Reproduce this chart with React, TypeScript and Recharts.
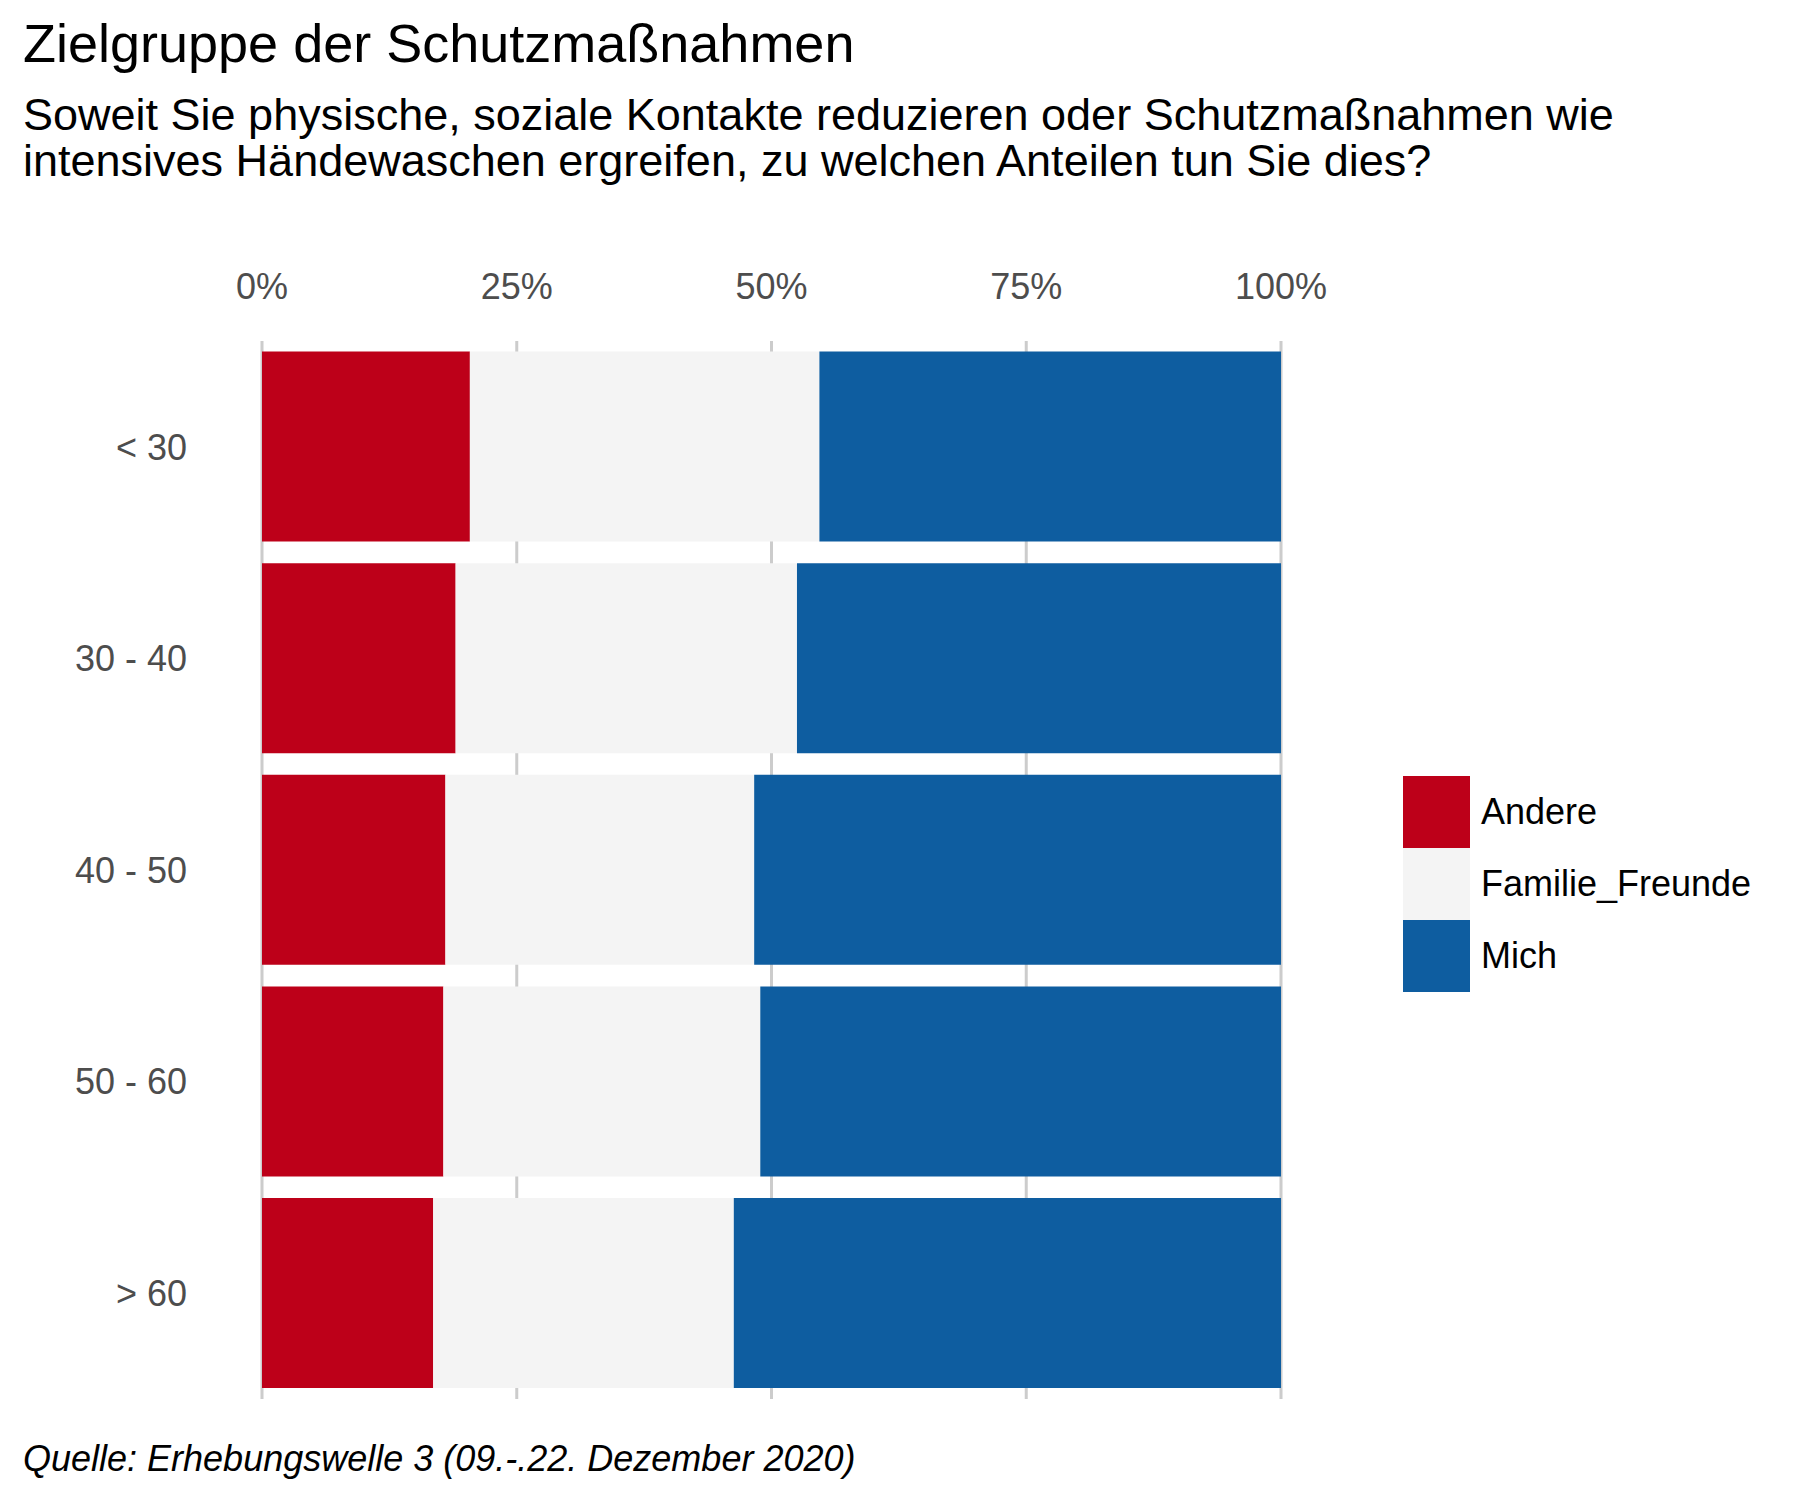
import { BarChart, Bar, XAxis, YAxis, CartesianGrid } from 'recharts';

const groups = ['< 30', '30 - 40', '40 - 50', '50 - 60', '> 60'];
const andere = [20.4, 19.0, 18.0, 17.8, 16.8];
const familie = [34.3, 33.5, 30.3, 31.1, 29.5];
const mich = [45.3, 47.5, 51.7, 51.1, 53.7];
const xTicks = [0, 25, 50, 75, 100];

const series = [
  { key: 'Andere', color: '#BD0019' },
  { key: 'Familie_Freunde', color: '#F4F4F4' },
  { key: 'Mich', color: '#0E5DA0' },
];

const data = groups.map((g, i) => ({
  group: g,
  Andere: andere[i],
  Familie_Freunde: familie[i],
  Mich: mich[i],
}));

const font = '"Liberation Sans", Arial, sans-serif';

export default function App() {
  return (
    <div style={{ position: 'absolute', left: 0, top: 0, width: 1800, height: 1500, background: '#fff', fontFamily: font }}>
      <div style={{ position: 'absolute', left: 23, top: 16, fontSize: 54, lineHeight: 1, color: '#000' }}>
        Zielgruppe der Schutzmaßnahmen
      </div>
      <div style={{ position: 'absolute', left: 23, top: 92, fontSize: 45, lineHeight: '46px', color: '#000' }}>
        Soweit Sie physische, soziale Kontakte reduzieren oder Schutzmaßnahmen wie<br />
        intensives Händewaschen ergreifen, zu welchen Anteilen tun Sie dies?
      </div>
      <BarChart
        width={1800}
        height={1500}
        data={data}
        layout="vertical"
        barCategoryGap="5%"
        margin={{ top: 296, right: 519, bottom: 101, left: 0 }}
        style={{ position: 'absolute', left: 0, top: 0 }}
      >
        <CartesianGrid horizontal={false} stroke="#cccccc" strokeWidth={3} />
        <XAxis
          type="number"
          orientation="top"
          domain={[0, 100]}
          ticks={xTicks}
          tickFormatter={(v) => `${v}%`}
          axisLine={false}
          tickLine={false}
          height={45}
          tickMargin={36}
          tick={{ fontSize: 36, fill: '#4D4D4D', fontFamily: font }}
        />
        <YAxis
          type="category"
          dataKey="group"
          width={262}
          axisLine={false}
          tickLine={false}
          tickMargin={69}
          tick={{ fontSize: 36, fill: '#4D4D4D', fontFamily: font }}
        />
        {series.map((s) => (
          <Bar key={s.key} dataKey={s.key} stackId="a" fill={s.color} isAnimationActive={false} />
        ))}
      </BarChart>
      <div style={{ position: 'absolute', left: 1403, top: 776 }}>
        {series.map((s) => (
          <div key={s.key} style={{ display: 'flex', alignItems: 'center', height: 72 }}>
            <div style={{ width: 67, height: 72, background: s.color }} />
            <span style={{ marginLeft: 11, fontSize: 36, color: '#000' }}>{s.key}</span>
          </div>
        ))}
      </div>
      <div style={{ position: 'absolute', left: 23, top: 1438, fontSize: 36, fontStyle: 'italic', color: '#000' }}>
        Quelle: Erhebungswelle 3 (09.-.22. Dezember 2020)
      </div>
    </div>
  );
}
